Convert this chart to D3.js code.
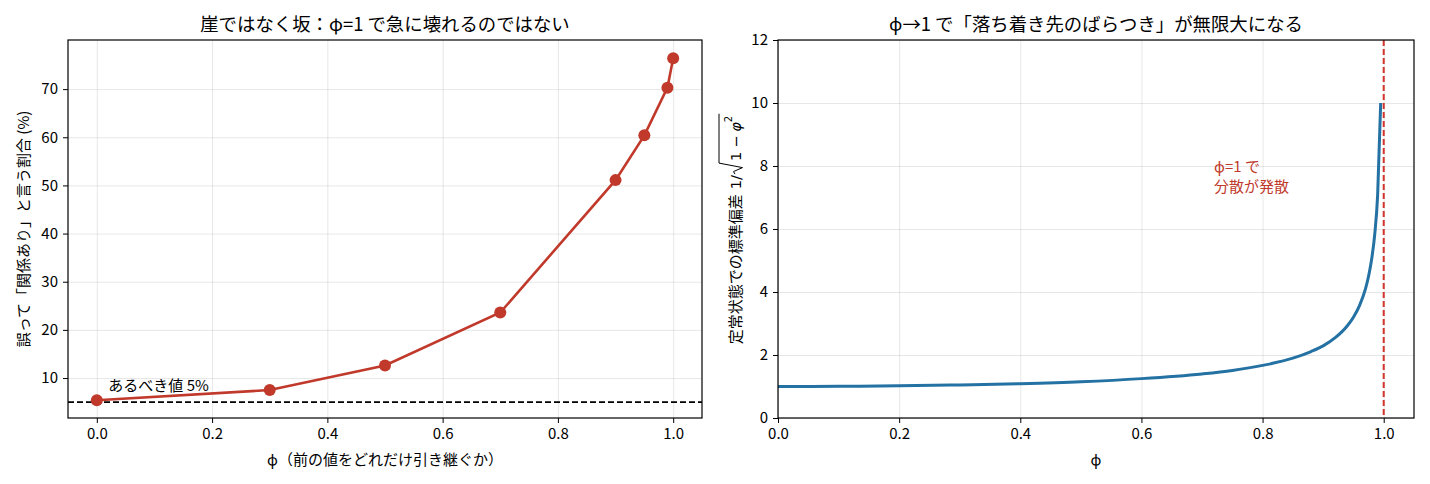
<!DOCTYPE html>
<html lang="ja">
<head>
<meta charset="UTF-8">
<title>坂と発散</title>
<style>
  body { margin: 0; background: #fff; }
  svg text { font-family: "Noto Sans CJK JP", "Noto Sans", sans-serif; fill: #000; }
  .tick text { font-size: 15px; }
  .tick line { stroke: #000; }
  .domain { display: none; }
  .grid line { stroke: #b0b0b0; stroke-opacity: 0.3; }
  .grid .domain { display: none; }
</style>
<script src="https://cdn.jsdelivr.net/npm/d3@7"></script>
</head>
<body>
<script>
// 左：φ ごとの「誤って関係ありと言う割合」(%)
var phiLeft  = [0.0, 0.3, 0.5, 0.7, 0.9, 0.95, 0.99, 1.0];
var falsePos = [5.4, 7.5, 12.6, 23.6, 51.1, 60.4, 70.3, 76.4];
var nominal  = 5;
var leftYTicks = [10, 20, 30, 40, 50, 60, 70];
var xTicks = [0.0, 0.2, 0.4, 0.6, 0.8, 1.0];

// 右：定常状態での標準偏差（図から読み取った点）
var phiRight = [0, 0.1, 0.2, 0.3, 0.4, 0.5, 0.6, 0.7, 0.75, 0.8, 0.85, 0.88, 0.9, 0.92,
                0.94, 0.95, 0.96, 0.97, 0.975, 0.98, 0.985, 0.99, 0.995];
var sdRight  = [1.00, 1.005, 1.02, 1.05, 1.09, 1.15, 1.25, 1.40, 1.51, 1.67, 1.90, 2.11,
                2.29, 2.55, 2.93, 3.20, 3.57, 4.11, 4.50, 5.03, 5.80, 7.09, 10.0];
var rightYTicks = [0, 2, 4, 6, 8, 10, 12];

var W = 1430, H = 484;
var svg = d3.select("body").append("svg").attr("width", W).attr("height", H);

var red = "#c0392b", blue = "#2471a3";
var titleSize = 18.4, labelSize = 15;

function panel(x0, x1, y0, y1, xs, ys, xt, yt, yfmt) {
  var g = svg.append("g");
  // グリッド
  g.append("g").attr("class", "grid")
    .attr("transform", "translate(0," + y1 + ")")
    .call(d3.axisBottom(xs).tickValues(xt).tickSize(-(y1 - y0)).tickFormat(""));
  g.append("g").attr("class", "grid")
    .attr("transform", "translate(" + x0 + ",0)")
    .call(d3.axisLeft(ys).tickValues(yt).tickSize(-(x1 - x0)).tickFormat(""));
  // 軸
  g.append("g").attr("transform", "translate(0," + y1 + ")")
    .call(d3.axisBottom(xs).tickValues(xt).tickSize(5).tickPadding(5).tickFormat(d3.format(".1f")));
  g.append("g").attr("transform", "translate(" + x0 + ",0)")
    .call(d3.axisLeft(ys).tickValues(yt).tickSize(5).tickPadding(5).tickFormat(yfmt));
  return g;
}

function frame(x0, x1, y0, y1) {
  svg.append("rect").attr("x", x0).attr("y", y0)
    .attr("width", x1 - x0).attr("height", y1 - y0)
    .attr("fill", "none").attr("stroke", "#000").attr("stroke-width", 1.2);
}

// ---------- 左パネル ----------
var L = {x0: 68, x1: 702, y0: 40, y1: 418};
var xL = d3.scaleLinear().domain([-0.05, 1.05]).range([L.x0, L.x1]);
var yL = d3.scaleLinear().domain([1.7, 80.2]).range([L.y1, L.y0]);
var gL = panel(L.x0, L.x1, L.y0, L.y1, xL, yL, xTicks, leftYTicks, d3.format("d"));

gL.append("line")
  .attr("x1", L.x0).attr("x2", L.x1)
  .attr("y1", yL(nominal)).attr("y2", yL(nominal))
  .attr("stroke", "#000").attr("stroke-width", 1.6).attr("stroke-dasharray", "6,3");

gL.append("path")
  .datum(d3.zip(phiLeft, falsePos))
  .attr("fill", "none").attr("stroke", red).attr("stroke-width", 2.6)
  .attr("d", d3.line().x(d => xL(d[0])).y(d => yL(d[1])));

gL.selectAll("circle").data(d3.zip(phiLeft, falsePos)).enter().append("circle")
  .attr("cx", d => xL(d[0])).attr("cy", d => yL(d[1])).attr("r", 6)
  .attr("fill", red);

gL.append("text").attr("x", xL(0.02)).attr("y", yL(7.3))
  .style("font-size", labelSize + "px").text("あるべき値 5%");

frame(L.x0, L.x1, L.y0, L.y1);

svg.append("text").attr("x", (L.x0 + L.x1) / 2).attr("y", 31)
  .attr("text-anchor", "middle").style("font-size", titleSize + "px")
  .text("崖ではなく坂：φ=1 で急に壊れるのではない");
svg.append("text").attr("x", (L.x0 + L.x1) / 2).attr("y", 465)
  .attr("text-anchor", "middle").style("font-size", labelSize + "px")
  .text("ϕ（前の値をどれだけ引き継ぐか）");
svg.append("text").attr("transform", "translate(29," + (L.y0 + L.y1) / 2 + ") rotate(-90)")
  .attr("text-anchor", "middle").style("font-size", labelSize + "px")
  .text("誤って「関係あり」と言う割合 (%)");

// ---------- 右パネル ----------
var R = {x0: 778, x1: 1414, y0: 40, y1: 418};
var xR = d3.scaleLinear().domain([0, 1.05]).range([R.x0, R.x1]);
var yR = d3.scaleLinear().domain([0, 12]).range([R.y1, R.y0]);
var gR = panel(R.x0, R.x1, R.y0, R.y1, xR, yR, xTicks, rightYTicks, d3.format("d"));

gR.append("path")
  .datum(d3.zip(phiRight, sdRight))
  .attr("fill", "none").attr("stroke", blue).attr("stroke-width", 3)
  .attr("d", d3.line().curve(d3.curveMonotoneX).x(d => xR(d[0])).y(d => yR(d[1])));

gR.append("line")
  .attr("x1", xR(1)).attr("x2", xR(1))
  .attr("y1", R.y0).attr("y2", R.y1)
  .attr("stroke", "#d0342c").attr("stroke-width", 2).attr("stroke-dasharray", "6,3");

var ann = gR.append("text").style("font-size", labelSize + "px").style("fill", red);
ann.append("tspan").attr("x", xR(0.72)).attr("y", 172).text("ϕ=1 で");
ann.append("tspan").attr("x", xR(0.72)).attr("y", 192).text("分散が発散");

frame(R.x0, R.x1, R.y0, R.y1);

svg.append("text").attr("x", (R.x0 + R.x1) / 2).attr("y", 31)
  .attr("text-anchor", "middle").style("font-size", titleSize + "px")
  .text("ϕ→1 で「落ち着き先のばらつき」が無限大になる");
svg.append("text").attr("x", (R.x0 + R.x1) / 2).attr("y", 465)
  .attr("text-anchor", "middle").style("font-size", labelSize + "px").text("ϕ");

// 右の y ラベル（数式部分は部品を並べる）
var yl = svg.append("g").attr("transform", "translate(741," + (R.y0 + R.y1) / 2 + ") rotate(-90)");
var cur = 0;
function part(str, font, size, style, dy) {
  var t = yl.append("text").attr("x", cur).attr("y", dy || 0)
    .style("font-size", size + "px").style("font-family", font).style("font-style", style || "normal")
    .text(str);
  cur += t.node().getComputedTextLength();
  return t;
}
var math = "DejaVu Sans", ms = 14.5;
part("定常状態での標準偏差", "Noto Sans CJK JP", labelSize);
cur += 5;
part("1/", math, ms);
var rx = cur;
cur += 14;
part("1", math, ms);
cur += 4;
part("−", math, ms);
cur += 4;
part("φ", math, ms, "italic");
part("2", math, 10, "normal", -9);
cur += 2;
yl.append("path")
  .attr("d", "M" + (rx + 1) + ",-6 L" + (rx + 3.5) + ",-7.5 L" + (rx + 7.5) + ",1.5 L" + (rx + 12) + ",-22 L" + cur + ",-22")
  .attr("fill", "none").attr("stroke", "#000").attr("stroke-width", 1);
yl.selectAll("*").attr("transform", "translate(" + (-cur / 2) + ",0)");
</script>
</body>
</html>
